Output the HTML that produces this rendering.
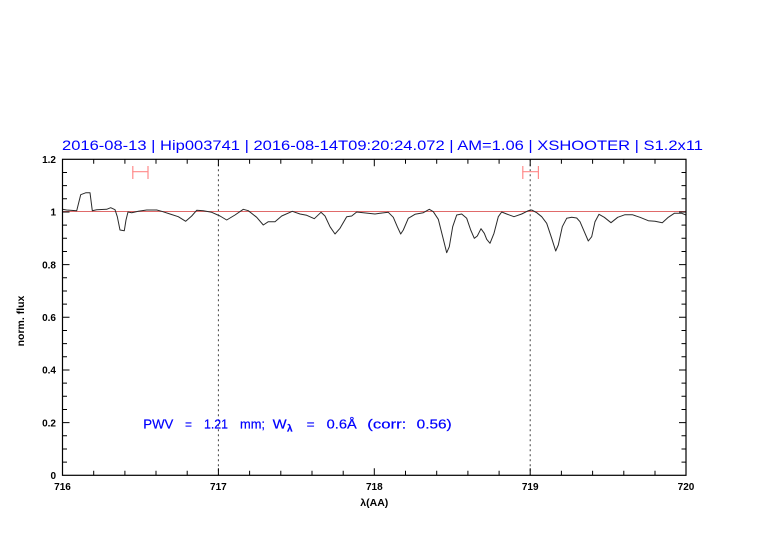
<!DOCTYPE html>
<html><head><meta charset="utf-8"><style>
html,body{margin:0;padding:0;background:#fff;}
svg{display:block;}
</style></head><body>
<svg width="782" height="542" viewBox="0 0 782 542" xmlns="http://www.w3.org/2000/svg" font-family="'Liberation Sans', sans-serif">
<rect width="782" height="542" fill="#fff"/>
<!-- title -->
<text x="62" y="150" font-size="14" fill="#0000ff" textLength="641" lengthAdjust="spacingAndGlyphs" xml:space="preserve">2016-08-13 | Hip003741 | 2016-08-14T09:20:24.072 | AM=1.06 | XSHOOTER | S1.2x11</text>

<!-- dotted verticals -->
<line x1="218.4" y1="159.3" x2="218.4" y2="475.3" stroke="#444" stroke-width="1" stroke-dasharray="2,3"/>
<line x1="530.2" y1="159.3" x2="530.2" y2="475.3" stroke="#444" stroke-width="1" stroke-dasharray="2,3"/>

<!-- continuum line -->
<line x1="62.5" y1="211.5" x2="686" y2="211.5" stroke="#e06a6a" stroke-width="1"/>

<!-- error bars -->
<g stroke="#ff8a8a" stroke-width="1.2" fill="none">
<line x1="132.3" y1="171.7" x2="148.3" y2="171.7"/>
<line x1="132.8" y1="166" x2="132.8" y2="179"/>
<line x1="148" y1="166" x2="148" y2="179"/>
<line x1="522.3" y1="171.7" x2="538.7" y2="171.7"/>
<line x1="522.8" y1="166" x2="522.8" y2="179"/>
<line x1="538.4" y1="166" x2="538.4" y2="179"/>
</g>

<!-- spectrum -->
<polyline fill="none" stroke="#2a2a2a" stroke-width="1" stroke-linejoin="round" points="62.5,209.3 66.7,210 76.7,210.7 80.7,194.7 86,192.7 90,192.7 92.3,210.7 96.7,209.7 106.7,209.3 110.7,207.7 115,209.7 117.3,216.7 120,230 124.3,230.7 126,220 128,212 131.7,212.7 138.3,211.3 146.7,210 156.7,210 161.7,211.3 170,214 178.3,216.7 185.7,221.3 191.7,216 196.7,210.3 203.3,210.7 211.7,212.3 220,216 226.7,220 235,215 243.3,209.3 248.3,210.7 256.7,217.3 263.3,225 268.3,221.7 275,221.7 281.7,216 292.3,211.3 300,214 306.7,215.3 314.3,218.7 321,212.3 325,216 330,226.7 335,234 340,228.3 346.7,216.7 351.7,216 356.7,212 363.3,212.7 375,214 380,213.3 388.3,212.3 393.3,217.3 397.3,226.7 400.7,234 403.3,230 408.3,218.3 415,214.3 423.3,212.7 429.3,209.3 433.3,211.7 438.3,219.3 442.7,236.7 446.7,252.7 449.3,246.7 452.7,226.7 456.7,215 461.7,214 466.7,218.3 470.7,230 474.3,238.3 477.3,236 481,228.7 484.3,233.3 486.7,239.3 490,243.3 494,233.3 498.3,216.7 501.7,212 506.7,214 514,216.7 521.7,214 528.3,210.7 531.7,210 536.7,212.7 541.7,216.7 546.7,223.3 551.7,238.3 555.7,251 558.3,245 562.3,226.7 566.7,218.3 571.7,217.3 576.7,218 580,221.7 584.3,231.7 588.3,241 591.7,236.7 595,221.7 599,214.3 604.3,217.3 611,222.7 617.7,217.3 625,214.7 632.3,214.7 640,217.3 648.3,220.7 655,221.3 662.3,222.7 668.3,217.3 674.3,213.3 681.7,213.3 686,215"/>

<!-- axes box -->
<rect x="62.5" y="159.3" width="623.5" height="316" fill="none" stroke="#000" stroke-width="1.2"/>

<!-- ticks -->
<g stroke="#000" stroke-width="1">
<path d="M93.7,475.3v-4.5M124.9,475.3v-4.5M156.0,475.3v-4.5M187.2,475.3v-4.5M218.4,475.3v-7M249.6,475.3v-4.5M280.8,475.3v-4.5M312.0,475.3v-4.5M343.2,475.3v-4.5M374.3,475.3v-7M405.5,475.3v-4.5M436.7,475.3v-4.5M467.9,475.3v-4.5M499.1,475.3v-4.5M530.2,475.3v-7M561.4,475.3v-4.5M592.6,475.3v-4.5M623.8,475.3v-4.5M655.0,475.3v-4.5"/>
<path d="M93.7,159.3v4.5M124.9,159.3v4.5M156.0,159.3v4.5M187.2,159.3v4.5M218.4,159.3v7M249.6,159.3v4.5M280.8,159.3v4.5M312.0,159.3v4.5M343.2,159.3v4.5M374.3,159.3v7M405.5,159.3v4.5M436.7,159.3v4.5M467.9,159.3v4.5M499.1,159.3v4.5M530.2,159.3v7M561.4,159.3v4.5M592.6,159.3v4.5M623.8,159.3v4.5M655.0,159.3v4.5"/>
<path d="M62.5,462.1h4.5M62.5,449.0h4.5M62.5,435.8h4.5M62.5,422.6h7M62.5,409.5h4.5M62.5,396.3h4.5M62.5,383.1h4.5M62.5,370.0h7M62.5,356.8h4.5M62.5,343.6h4.5M62.5,330.5h4.5M62.5,317.3h7M62.5,304.1h4.5M62.5,291.0h4.5M62.5,277.8h4.5M62.5,264.6h7M62.5,251.5h4.5M62.5,238.3h4.5M62.5,225.1h4.5M62.5,212.0h7M62.5,198.8h4.5M62.5,185.6h4.5M62.5,172.5h4.5"/>
<path d="M686,462.1h-4.5M686,449.0h-4.5M686,435.8h-4.5M686,422.6h-7M686,409.5h-4.5M686,396.3h-4.5M686,383.1h-4.5M686,370.0h-7M686,356.8h-4.5M686,343.6h-4.5M686,330.5h-4.5M686,317.3h-7M686,304.1h-4.5M686,291.0h-4.5M686,277.8h-4.5M686,264.6h-7M686,251.5h-4.5M686,238.3h-4.5M686,225.1h-4.5M686,212.0h-7M686,198.8h-4.5M686,185.6h-4.5M686,172.5h-4.5"/>
</g>

<!-- y tick labels -->
<g font-size="10" font-weight="bold" fill="#000" text-anchor="end">
<text x="56" y="479">0</text>
<text x="56" y="426.3">0.2</text>
<text x="56" y="373.7">0.4</text>
<text x="56" y="321">0.6</text>
<text x="56" y="268.3">0.8</text>
<text x="56" y="215.7">1</text>
<text x="56" y="163">1.2</text>
</g>
<!-- x tick labels -->
<g font-size="10" font-weight="bold" fill="#000" text-anchor="middle">
<text x="62.5" y="490">716</text>
<text x="218.4" y="490">717</text>
<text x="374.3" y="490">718</text>
<text x="530.2" y="490">719</text>
<text x="686" y="490">720</text>
</g>
<!-- axis labels -->
<text x="374.3" y="506" font-size="10.5" font-weight="bold" text-anchor="middle" fill="#000">λ(AA)</text>
<text transform="translate(24,321) rotate(-90)" font-size="10.5" font-weight="bold" text-anchor="middle" fill="#000">norm. flux</text>

<!-- annotation -->
<g font-size="13" fill="#0000ff" stroke="#0000ff" stroke-width="0.2">
<text x="143.3" y="428.5" textLength="30" lengthAdjust="spacingAndGlyphs">PWV</text>
<text x="185" y="428.5" textLength="7" lengthAdjust="spacingAndGlyphs">=</text>
<text x="204" y="428.5" textLength="24" lengthAdjust="spacingAndGlyphs">1.21</text>
<text x="240" y="428.5" textLength="25" lengthAdjust="spacingAndGlyphs">mm;</text>
<text x="272.7" y="428.5" textLength="14" lengthAdjust="spacingAndGlyphs">W</text>
<text x="287" y="431.5" font-size="10" font-weight="bold">λ</text>
<text x="306.7" y="428.5" textLength="8" lengthAdjust="spacingAndGlyphs">=</text>
<text x="326.7" y="428.5" textLength="30" lengthAdjust="spacingAndGlyphs">0.6Å</text>
<text x="367.3" y="428.5" textLength="39" lengthAdjust="spacingAndGlyphs">(corr:</text>
<text x="416.7" y="428.5" textLength="35" lengthAdjust="spacingAndGlyphs">0.56)</text>
</g>
</svg>
</body></html>
